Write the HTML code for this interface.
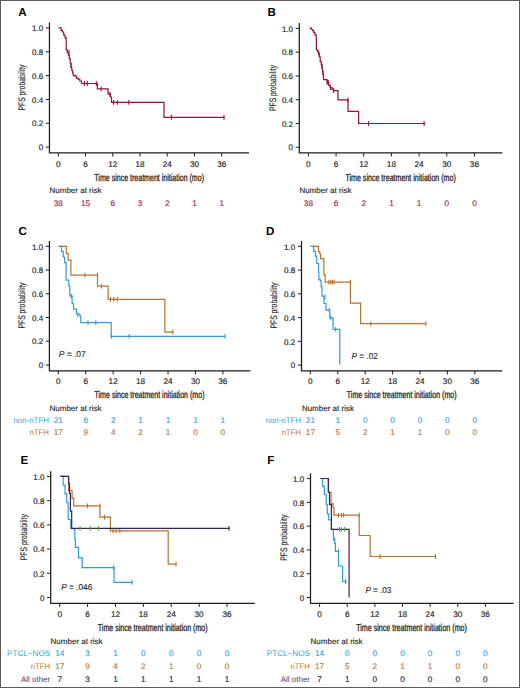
<!DOCTYPE html>
<html><head><meta charset="utf-8"><style>
html,body{margin:0;padding:0;background:#fff;}
svg{display:block;font-family:"Liberation Sans", sans-serif;text-rendering:geometricPrecision;}
</style></head><body>
<svg width="520" height="688" viewBox="0 0 520 688">
<rect x="0" y="0" width="520" height="688" fill="#fff"/>
<text x="18.30" y="15.75" font-size="11.6" fill="#000" font-weight="bold">A</text>
<path d="M49.45,22.60V152.90H249.00" fill="none" stroke="#1c1c1c" stroke-width="1.25"/>
<path d="M45.85,147.10H49.45" stroke="#1c1c1c" stroke-width="1"/>
<text x="43.15" y="150.30" font-size="8" fill="#222" text-anchor="end" stroke="#222" stroke-width="0.15">0</text>
<path d="M45.85,123.26H49.45" stroke="#1c1c1c" stroke-width="1"/>
<text x="43.15" y="126.46" font-size="8" fill="#222" text-anchor="end" stroke="#222" stroke-width="0.15">0.2</text>
<path d="M45.85,99.42H49.45" stroke="#1c1c1c" stroke-width="1"/>
<text x="43.15" y="102.62" font-size="8" fill="#222" text-anchor="end" stroke="#222" stroke-width="0.15">0.4</text>
<path d="M45.85,75.58H49.45" stroke="#1c1c1c" stroke-width="1"/>
<text x="43.15" y="78.78" font-size="8" fill="#222" text-anchor="end" stroke="#222" stroke-width="0.15">0.6</text>
<path d="M45.85,51.74H49.45" stroke="#1c1c1c" stroke-width="1"/>
<text x="43.15" y="54.94" font-size="8" fill="#222" text-anchor="end" stroke="#222" stroke-width="0.15">0.8</text>
<path d="M45.85,27.90H49.45" stroke="#1c1c1c" stroke-width="1"/>
<text x="43.15" y="31.10" font-size="8" fill="#222" text-anchor="end" stroke="#222" stroke-width="0.15">1.0</text>
<path d="M58.30,152.90V156.50" stroke="#1c1c1c" stroke-width="1"/>
<text x="58.30" y="167.15" font-size="8.2" fill="#222" text-anchor="middle" stroke="#222" stroke-width="0.15">0</text>
<path d="M85.53,152.90V156.50" stroke="#1c1c1c" stroke-width="1"/>
<text x="85.53" y="167.15" font-size="8.2" fill="#222" text-anchor="middle" stroke="#222" stroke-width="0.15">6</text>
<path d="M112.76,152.90V156.50" stroke="#1c1c1c" stroke-width="1"/>
<text x="112.76" y="167.15" font-size="8.2" fill="#222" text-anchor="middle" stroke="#222" stroke-width="0.15">12</text>
<path d="M139.99,152.90V156.50" stroke="#1c1c1c" stroke-width="1"/>
<text x="139.99" y="167.15" font-size="8.2" fill="#222" text-anchor="middle" stroke="#222" stroke-width="0.15">18</text>
<path d="M167.22,152.90V156.50" stroke="#1c1c1c" stroke-width="1"/>
<text x="167.22" y="167.15" font-size="8.2" fill="#222" text-anchor="middle" stroke="#222" stroke-width="0.15">24</text>
<path d="M194.45,152.90V156.50" stroke="#1c1c1c" stroke-width="1"/>
<text x="194.45" y="167.15" font-size="8.2" fill="#222" text-anchor="middle" stroke="#222" stroke-width="0.15">30</text>
<path d="M221.68,152.90V156.50" stroke="#1c1c1c" stroke-width="1"/>
<text x="221.68" y="167.15" font-size="8.2" fill="#222" text-anchor="middle" stroke="#222" stroke-width="0.15">36</text>
<text transform="translate(25.00,87.50) rotate(-90)" font-size="9.5" fill="#222" text-anchor="middle" textLength="46" lengthAdjust="spacingAndGlyphs" stroke="#222" stroke-width="0.12">PFS probability</text>
<text x="94.30" y="180.50" font-size="10" fill="#222" textLength="109.7" lengthAdjust="spacingAndGlyphs" stroke="#222" stroke-width="0.3">Time since treatment initiation (mo)</text>
<text x="49.50" y="193.40" font-size="8" fill="#222" stroke="#222" stroke-width="0.12">Number at risk</text>
<text x="58.30" y="205.55" font-size="8.2" fill="#a3284f" text-anchor="middle" stroke="#a3284f" stroke-width="0.15">38</text>
<text x="85.53" y="205.55" font-size="8.2" fill="#a3284f" text-anchor="middle" stroke="#a3284f" stroke-width="0.15">15</text>
<text x="112.76" y="205.55" font-size="8.2" fill="#a3284f" text-anchor="middle" stroke="#a3284f" stroke-width="0.15">6</text>
<text x="139.99" y="205.55" font-size="8.2" fill="#a3284f" text-anchor="middle" stroke="#a3284f" stroke-width="0.15">3</text>
<text x="167.22" y="205.55" font-size="8.2" fill="#a3284f" text-anchor="middle" stroke="#a3284f" stroke-width="0.15">2</text>
<text x="194.45" y="205.55" font-size="8.2" fill="#a3284f" text-anchor="middle" stroke="#a3284f" stroke-width="0.15">1</text>
<text x="221.68" y="205.55" font-size="8.2" fill="#a3284f" text-anchor="middle" stroke="#a3284f" stroke-width="0.15">1</text>
<path d="M58.50,27.90H61.10V30.30H62.40V32.00H63.70V35.10H65.00V37.70H66.20V49.90H67.30V52.50H68.30V55.10H69.30V58.60H70.20V63.00H71.00V67.50H71.80V70.50H72.60V73.00H73.30V75.60H75.00V75.90H76.30V78.10H78.10V79.20H79.80V81.00H81.50V83.50H97.40V88.80H108.10V94.20H110.40V97.00H111.50V102.30H164.00V117.30H224.50" fill="none" stroke="#921338" stroke-width="1.2" stroke-linejoin="miter" stroke-linecap="butt"/>
<path d="M69.00,50.10V54.90" stroke="#921338" stroke-width="1.1"/>
<path d="M71.10,63.20V68.00" stroke="#921338" stroke-width="1.1"/>
<path d="M84.40,81.10V85.90" stroke="#921338" stroke-width="1.1"/>
<path d="M87.30,81.10V85.90" stroke="#921338" stroke-width="1.1"/>
<path d="M96.30,81.10V85.90" stroke="#921338" stroke-width="1.1"/>
<path d="M101.10,86.40V91.20" stroke="#921338" stroke-width="1.1"/>
<path d="M110.00,91.80V96.60" stroke="#921338" stroke-width="1.1"/>
<path d="M113.60,99.90V104.70" stroke="#921338" stroke-width="1.1"/>
<path d="M117.30,99.90V104.70" stroke="#921338" stroke-width="1.1"/>
<path d="M128.80,99.90V104.70" stroke="#921338" stroke-width="1.1"/>
<path d="M171.50,114.90V119.70" stroke="#921338" stroke-width="1.1"/>
<path d="M224.00,114.90V119.70" stroke="#921338" stroke-width="1.1"/>
<text x="267.50" y="15.75" font-size="11.6" fill="#000" font-weight="bold">B</text>
<path d="M299.30,23.10V152.90H502.30" fill="none" stroke="#1c1c1c" stroke-width="1.25"/>
<path d="M295.70,147.25H299.30" stroke="#1c1c1c" stroke-width="1"/>
<text x="293.00" y="150.45" font-size="8" fill="#222" text-anchor="end" stroke="#222" stroke-width="0.15">0</text>
<path d="M295.70,123.48H299.30" stroke="#1c1c1c" stroke-width="1"/>
<text x="293.00" y="126.68" font-size="8" fill="#222" text-anchor="end" stroke="#222" stroke-width="0.15">0.2</text>
<path d="M295.70,99.71H299.30" stroke="#1c1c1c" stroke-width="1"/>
<text x="293.00" y="102.91" font-size="8" fill="#222" text-anchor="end" stroke="#222" stroke-width="0.15">0.4</text>
<path d="M295.70,75.94H299.30" stroke="#1c1c1c" stroke-width="1"/>
<text x="293.00" y="79.14" font-size="8" fill="#222" text-anchor="end" stroke="#222" stroke-width="0.15">0.6</text>
<path d="M295.70,52.17H299.30" stroke="#1c1c1c" stroke-width="1"/>
<text x="293.00" y="55.37" font-size="8" fill="#222" text-anchor="end" stroke="#222" stroke-width="0.15">0.8</text>
<path d="M295.70,28.40H299.30" stroke="#1c1c1c" stroke-width="1"/>
<text x="293.00" y="31.60" font-size="8" fill="#222" text-anchor="end" stroke="#222" stroke-width="0.15">1.0</text>
<path d="M308.40,152.90V156.50" stroke="#1c1c1c" stroke-width="1"/>
<text x="308.40" y="166.85" font-size="8.2" fill="#222" text-anchor="middle" stroke="#222" stroke-width="0.15">0</text>
<path d="M336.07,152.90V156.50" stroke="#1c1c1c" stroke-width="1"/>
<text x="336.07" y="166.85" font-size="8.2" fill="#222" text-anchor="middle" stroke="#222" stroke-width="0.15">6</text>
<path d="M363.74,152.90V156.50" stroke="#1c1c1c" stroke-width="1"/>
<text x="363.74" y="166.85" font-size="8.2" fill="#222" text-anchor="middle" stroke="#222" stroke-width="0.15">12</text>
<path d="M391.41,152.90V156.50" stroke="#1c1c1c" stroke-width="1"/>
<text x="391.41" y="166.85" font-size="8.2" fill="#222" text-anchor="middle" stroke="#222" stroke-width="0.15">18</text>
<path d="M419.08,152.90V156.50" stroke="#1c1c1c" stroke-width="1"/>
<text x="419.08" y="166.85" font-size="8.2" fill="#222" text-anchor="middle" stroke="#222" stroke-width="0.15">24</text>
<path d="M446.75,152.90V156.50" stroke="#1c1c1c" stroke-width="1"/>
<text x="446.75" y="166.85" font-size="8.2" fill="#222" text-anchor="middle" stroke="#222" stroke-width="0.15">30</text>
<path d="M474.42,152.90V156.50" stroke="#1c1c1c" stroke-width="1"/>
<text x="474.42" y="166.85" font-size="8.2" fill="#222" text-anchor="middle" stroke="#222" stroke-width="0.15">36</text>
<text transform="translate(275.80,88.00) rotate(-90)" font-size="9.5" fill="#222" text-anchor="middle" textLength="46" lengthAdjust="spacingAndGlyphs" stroke="#222" stroke-width="0.12">PFS probability</text>
<text x="345.40" y="180.50" font-size="10" fill="#222" textLength="110.40000000000003" lengthAdjust="spacingAndGlyphs" stroke="#222" stroke-width="0.3">Time since treatment initiation (mo)</text>
<text x="299.40" y="193.40" font-size="8" fill="#222" stroke="#222" stroke-width="0.12">Number at risk</text>
<text x="308.40" y="205.55" font-size="8.2" fill="#a3284f" text-anchor="middle" stroke="#a3284f" stroke-width="0.15">38</text>
<text x="336.07" y="205.55" font-size="8.2" fill="#a3284f" text-anchor="middle" stroke="#a3284f" stroke-width="0.15">6</text>
<text x="363.74" y="205.55" font-size="8.2" fill="#a3284f" text-anchor="middle" stroke="#a3284f" stroke-width="0.15">2</text>
<text x="391.41" y="205.55" font-size="8.2" fill="#a3284f" text-anchor="middle" stroke="#a3284f" stroke-width="0.15">1</text>
<text x="419.08" y="205.55" font-size="8.2" fill="#a3284f" text-anchor="middle" stroke="#a3284f" stroke-width="0.15">1</text>
<text x="446.75" y="205.55" font-size="8.2" fill="#a3284f" text-anchor="middle" stroke="#a3284f" stroke-width="0.15">0</text>
<text x="474.42" y="205.55" font-size="8.2" fill="#a3284f" text-anchor="middle" stroke="#a3284f" stroke-width="0.15">0</text>
<path d="M309.10,28.00H311.40V29.50H312.60V30.70H313.70V32.50H314.90V34.80H316.20V37.70H316.40V49.90H317.60V51.70H318.50V53.60H319.30V56.90H320.20V61.50H321.20V64.50H321.90V68.00H322.50V71.00H323.00V74.50H323.50V79.60H327.10V82.50H328.80V85.40H330.20V87.50H332.00V89.40H333.50V90.60H338.00V99.80H348.00V111.40H358.60V123.50H425.20" fill="none" stroke="#921338" stroke-width="1.2" stroke-linejoin="miter" stroke-linecap="butt"/>
<path d="M318.70,50.80V55.60" stroke="#921338" stroke-width="1.1"/>
<path d="M321.90,63.60V68.40" stroke="#921338" stroke-width="1.1"/>
<path d="M323.00,70.80V75.60" stroke="#921338" stroke-width="1.1"/>
<path d="M327.10,80.10V84.90" stroke="#921338" stroke-width="1.1"/>
<path d="M328.30,80.10V84.90" stroke="#921338" stroke-width="1.1"/>
<path d="M330.50,85.10V89.90" stroke="#921338" stroke-width="1.1"/>
<path d="M333.50,88.20V93.00" stroke="#921338" stroke-width="1.1"/>
<path d="M348.00,97.40V102.20" stroke="#921338" stroke-width="1.1"/>
<path d="M368.50,121.10V125.90" stroke="#921338" stroke-width="1.1"/>
<path d="M424.10,121.10V125.90" stroke="#921338" stroke-width="1.1"/>
<text x="18.60" y="234.50" font-size="11.6" fill="#000" font-weight="bold">C</text>
<path d="M49.40,241.00V370.75H250.40" fill="none" stroke="#1c1c1c" stroke-width="1.25"/>
<path d="M45.80,365.00H49.40" stroke="#1c1c1c" stroke-width="1"/>
<text x="43.10" y="368.20" font-size="8" fill="#222" text-anchor="end" stroke="#222" stroke-width="0.15">0</text>
<path d="M45.80,341.26H49.40" stroke="#1c1c1c" stroke-width="1"/>
<text x="43.10" y="344.46" font-size="8" fill="#222" text-anchor="end" stroke="#222" stroke-width="0.15">0.2</text>
<path d="M45.80,317.52H49.40" stroke="#1c1c1c" stroke-width="1"/>
<text x="43.10" y="320.72" font-size="8" fill="#222" text-anchor="end" stroke="#222" stroke-width="0.15">0.4</text>
<path d="M45.80,293.78H49.40" stroke="#1c1c1c" stroke-width="1"/>
<text x="43.10" y="296.98" font-size="8" fill="#222" text-anchor="end" stroke="#222" stroke-width="0.15">0.6</text>
<path d="M45.80,270.04H49.40" stroke="#1c1c1c" stroke-width="1"/>
<text x="43.10" y="273.24" font-size="8" fill="#222" text-anchor="end" stroke="#222" stroke-width="0.15">0.8</text>
<path d="M45.80,246.30H49.40" stroke="#1c1c1c" stroke-width="1"/>
<text x="43.10" y="249.50" font-size="8" fill="#222" text-anchor="end" stroke="#222" stroke-width="0.15">1.0</text>
<path d="M58.30,370.75V374.35" stroke="#1c1c1c" stroke-width="1"/>
<text x="58.30" y="384.25" font-size="8.2" fill="#222" text-anchor="middle" stroke="#222" stroke-width="0.15">0</text>
<path d="M85.73,370.75V374.35" stroke="#1c1c1c" stroke-width="1"/>
<text x="85.73" y="384.25" font-size="8.2" fill="#222" text-anchor="middle" stroke="#222" stroke-width="0.15">6</text>
<path d="M113.16,370.75V374.35" stroke="#1c1c1c" stroke-width="1"/>
<text x="113.16" y="384.25" font-size="8.2" fill="#222" text-anchor="middle" stroke="#222" stroke-width="0.15">12</text>
<path d="M140.59,370.75V374.35" stroke="#1c1c1c" stroke-width="1"/>
<text x="140.59" y="384.25" font-size="8.2" fill="#222" text-anchor="middle" stroke="#222" stroke-width="0.15">18</text>
<path d="M168.02,370.75V374.35" stroke="#1c1c1c" stroke-width="1"/>
<text x="168.02" y="384.25" font-size="8.2" fill="#222" text-anchor="middle" stroke="#222" stroke-width="0.15">24</text>
<path d="M195.45,370.75V374.35" stroke="#1c1c1c" stroke-width="1"/>
<text x="195.45" y="384.25" font-size="8.2" fill="#222" text-anchor="middle" stroke="#222" stroke-width="0.15">30</text>
<path d="M222.88,370.75V374.35" stroke="#1c1c1c" stroke-width="1"/>
<text x="222.88" y="384.25" font-size="8.2" fill="#222" text-anchor="middle" stroke="#222" stroke-width="0.15">36</text>
<text transform="translate(25.00,305.50) rotate(-90)" font-size="9.5" fill="#222" text-anchor="middle" textLength="46" lengthAdjust="spacingAndGlyphs" stroke="#222" stroke-width="0.12">PFS probability</text>
<text x="94.50" y="398.40" font-size="10" fill="#222" textLength="110.0" lengthAdjust="spacingAndGlyphs" stroke="#222" stroke-width="0.3">Time since treatment initiation (mo)</text>
<text x="49.50" y="410.80" font-size="8" fill="#222" stroke="#222" stroke-width="0.12">Number at risk</text>
<text x="48.90" y="423.10" font-size="8" fill="#3aa5da" text-anchor="end" textLength="35.5" lengthAdjust="spacingAndGlyphs">non-nTFH</text>
<text x="58.30" y="423.15" font-size="8.2" fill="#3aa5da" text-anchor="middle" stroke="#3aa5da" stroke-width="0.15">21</text>
<text x="85.73" y="423.15" font-size="8.2" fill="#3aa5da" text-anchor="middle" stroke="#3aa5da" stroke-width="0.15">6</text>
<text x="113.16" y="423.15" font-size="8.2" fill="#3aa5da" text-anchor="middle" stroke="#3aa5da" stroke-width="0.15">2</text>
<text x="140.59" y="423.15" font-size="8.2" fill="#3aa5da" text-anchor="middle" stroke="#3aa5da" stroke-width="0.15">1</text>
<text x="168.02" y="423.15" font-size="8.2" fill="#3aa5da" text-anchor="middle" stroke="#3aa5da" stroke-width="0.15">1</text>
<text x="195.45" y="423.15" font-size="8.2" fill="#3aa5da" text-anchor="middle" stroke="#3aa5da" stroke-width="0.15">1</text>
<text x="222.88" y="423.15" font-size="8.2" fill="#3aa5da" text-anchor="middle" stroke="#3aa5da" stroke-width="0.15">1</text>
<text x="48.90" y="435.30" font-size="8" fill="#c07a35" text-anchor="end" textLength="19.5" lengthAdjust="spacingAndGlyphs">nTFH</text>
<text x="58.30" y="435.35" font-size="8.2" fill="#c07a35" text-anchor="middle" stroke="#c07a35" stroke-width="0.15">17</text>
<text x="85.73" y="435.35" font-size="8.2" fill="#c07a35" text-anchor="middle" stroke="#c07a35" stroke-width="0.15">9</text>
<text x="113.16" y="435.35" font-size="8.2" fill="#c07a35" text-anchor="middle" stroke="#c07a35" stroke-width="0.15">4</text>
<text x="140.59" y="435.35" font-size="8.2" fill="#c07a35" text-anchor="middle" stroke="#c07a35" stroke-width="0.15">2</text>
<text x="168.02" y="435.35" font-size="8.2" fill="#c07a35" text-anchor="middle" stroke="#c07a35" stroke-width="0.15">1</text>
<text x="195.45" y="435.35" font-size="8.2" fill="#c07a35" text-anchor="middle" stroke="#c07a35" stroke-width="0.15">0</text>
<text x="222.88" y="435.35" font-size="8.2" fill="#c07a35" text-anchor="middle" stroke="#c07a35" stroke-width="0.15">0</text>
<text x="58.70" y="357.00" font-size="8.5" fill="#222" stroke="#222" stroke-width="0.12" textLength="27.0" lengthAdjust="spacingAndGlyphs"><tspan font-style="italic">P</tspan> = .07</text>
<path d="M58.50,246.30H61.50V251.30H63.30V257.00H64.60V262.70H66.10V280.10H68.80V286.00H69.80V295.80H72.10V303.50H73.50V309.20H76.50V314.00H79.80V316.00H80.80V322.70H111.20V336.30H225.40" fill="none" stroke="#2f9dd2" stroke-width="1.2" stroke-linejoin="miter" stroke-linecap="butt"/>
<path d="M71.20,293.80V298.60" stroke="#2f9dd2" stroke-width="1.1"/>
<path d="M77.90,312.60V317.40" stroke="#2f9dd2" stroke-width="1.1"/>
<path d="M88.00,320.30V325.10" stroke="#2f9dd2" stroke-width="1.1"/>
<path d="M95.80,320.30V325.10" stroke="#2f9dd2" stroke-width="1.1"/>
<path d="M111.20,333.90V338.70" stroke="#2f9dd2" stroke-width="1.1"/>
<path d="M129.20,333.90V338.70" stroke="#2f9dd2" stroke-width="1.1"/>
<path d="M225.00,333.90V338.70" stroke="#2f9dd2" stroke-width="1.1"/>
<path d="M58.50,246.30H66.30V253.30H68.20V260.20H70.90V275.10H97.50V286.20H108.10V299.40H164.90V332.20H173.50" fill="none" stroke="#b5732f" stroke-width="1.2" stroke-linejoin="miter" stroke-linecap="butt"/>
<path d="M85.00,272.70V277.50" stroke="#b5732f" stroke-width="1.1"/>
<path d="M97.50,272.70V277.50" stroke="#b5732f" stroke-width="1.1"/>
<path d="M101.50,283.80V288.60" stroke="#b5732f" stroke-width="1.1"/>
<path d="M110.60,297.00V301.80" stroke="#b5732f" stroke-width="1.1"/>
<path d="M113.80,297.00V301.80" stroke="#b5732f" stroke-width="1.1"/>
<path d="M117.30,297.00V301.80" stroke="#b5732f" stroke-width="1.1"/>
<path d="M172.80,329.80V334.60" stroke="#b5732f" stroke-width="1.1"/>
<text x="266.00" y="234.50" font-size="11.6" fill="#000" font-weight="bold">D</text>
<path d="M301.50,241.00V370.75H502.30" fill="none" stroke="#1c1c1c" stroke-width="1.25"/>
<path d="M297.90,365.10H301.50" stroke="#1c1c1c" stroke-width="1"/>
<text x="295.20" y="368.30" font-size="8" fill="#222" text-anchor="end" stroke="#222" stroke-width="0.15">0</text>
<path d="M297.90,341.34H301.50" stroke="#1c1c1c" stroke-width="1"/>
<text x="295.20" y="344.54" font-size="8" fill="#222" text-anchor="end" stroke="#222" stroke-width="0.15">0.2</text>
<path d="M297.90,317.58H301.50" stroke="#1c1c1c" stroke-width="1"/>
<text x="295.20" y="320.78" font-size="8" fill="#222" text-anchor="end" stroke="#222" stroke-width="0.15">0.4</text>
<path d="M297.90,293.82H301.50" stroke="#1c1c1c" stroke-width="1"/>
<text x="295.20" y="297.02" font-size="8" fill="#222" text-anchor="end" stroke="#222" stroke-width="0.15">0.6</text>
<path d="M297.90,270.06H301.50" stroke="#1c1c1c" stroke-width="1"/>
<text x="295.20" y="273.26" font-size="8" fill="#222" text-anchor="end" stroke="#222" stroke-width="0.15">0.8</text>
<path d="M297.90,246.30H301.50" stroke="#1c1c1c" stroke-width="1"/>
<text x="295.20" y="249.50" font-size="8" fill="#222" text-anchor="end" stroke="#222" stroke-width="0.15">1.0</text>
<path d="M310.40,370.75V374.35" stroke="#1c1c1c" stroke-width="1"/>
<text x="310.40" y="384.45" font-size="8.2" fill="#222" text-anchor="middle" stroke="#222" stroke-width="0.15">0</text>
<path d="M337.80,370.75V374.35" stroke="#1c1c1c" stroke-width="1"/>
<text x="337.80" y="384.45" font-size="8.2" fill="#222" text-anchor="middle" stroke="#222" stroke-width="0.15">6</text>
<path d="M365.20,370.75V374.35" stroke="#1c1c1c" stroke-width="1"/>
<text x="365.20" y="384.45" font-size="8.2" fill="#222" text-anchor="middle" stroke="#222" stroke-width="0.15">12</text>
<path d="M392.60,370.75V374.35" stroke="#1c1c1c" stroke-width="1"/>
<text x="392.60" y="384.45" font-size="8.2" fill="#222" text-anchor="middle" stroke="#222" stroke-width="0.15">18</text>
<path d="M420.00,370.75V374.35" stroke="#1c1c1c" stroke-width="1"/>
<text x="420.00" y="384.45" font-size="8.2" fill="#222" text-anchor="middle" stroke="#222" stroke-width="0.15">24</text>
<path d="M447.40,370.75V374.35" stroke="#1c1c1c" stroke-width="1"/>
<text x="447.40" y="384.45" font-size="8.2" fill="#222" text-anchor="middle" stroke="#222" stroke-width="0.15">30</text>
<path d="M474.80,370.75V374.35" stroke="#1c1c1c" stroke-width="1"/>
<text x="474.80" y="384.45" font-size="8.2" fill="#222" text-anchor="middle" stroke="#222" stroke-width="0.15">36</text>
<text transform="translate(277.20,305.50) rotate(-90)" font-size="9.5" fill="#222" text-anchor="middle" textLength="46" lengthAdjust="spacingAndGlyphs" stroke="#222" stroke-width="0.12">PFS probability</text>
<text x="346.80" y="398.10" font-size="10" fill="#222" textLength="109.80000000000001" lengthAdjust="spacingAndGlyphs" stroke="#222" stroke-width="0.3">Time since treatment initiation (mo)</text>
<text x="301.90" y="410.80" font-size="8" fill="#222" stroke="#222" stroke-width="0.12">Number at risk</text>
<text x="301.00" y="423.10" font-size="8" fill="#3aa5da" text-anchor="end" textLength="35.5" lengthAdjust="spacingAndGlyphs">non-nTFH</text>
<text x="310.40" y="423.15" font-size="8.2" fill="#3aa5da" text-anchor="middle" stroke="#3aa5da" stroke-width="0.15">21</text>
<text x="337.80" y="423.15" font-size="8.2" fill="#3aa5da" text-anchor="middle" stroke="#3aa5da" stroke-width="0.15">1</text>
<text x="365.20" y="423.15" font-size="8.2" fill="#3aa5da" text-anchor="middle" stroke="#3aa5da" stroke-width="0.15">0</text>
<text x="392.60" y="423.15" font-size="8.2" fill="#3aa5da" text-anchor="middle" stroke="#3aa5da" stroke-width="0.15">0</text>
<text x="420.00" y="423.15" font-size="8.2" fill="#3aa5da" text-anchor="middle" stroke="#3aa5da" stroke-width="0.15">0</text>
<text x="447.40" y="423.15" font-size="8.2" fill="#3aa5da" text-anchor="middle" stroke="#3aa5da" stroke-width="0.15">0</text>
<text x="474.80" y="423.15" font-size="8.2" fill="#3aa5da" text-anchor="middle" stroke="#3aa5da" stroke-width="0.15">0</text>
<text x="301.00" y="435.30" font-size="8" fill="#c07a35" text-anchor="end" textLength="19.5" lengthAdjust="spacingAndGlyphs">nTFH</text>
<text x="310.40" y="435.35" font-size="8.2" fill="#c07a35" text-anchor="middle" stroke="#c07a35" stroke-width="0.15">17</text>
<text x="337.80" y="435.35" font-size="8.2" fill="#c07a35" text-anchor="middle" stroke="#c07a35" stroke-width="0.15">5</text>
<text x="365.20" y="435.35" font-size="8.2" fill="#c07a35" text-anchor="middle" stroke="#c07a35" stroke-width="0.15">2</text>
<text x="392.60" y="435.35" font-size="8.2" fill="#c07a35" text-anchor="middle" stroke="#c07a35" stroke-width="0.15">1</text>
<text x="420.00" y="435.35" font-size="8.2" fill="#c07a35" text-anchor="middle" stroke="#c07a35" stroke-width="0.15">1</text>
<text x="447.40" y="435.35" font-size="8.2" fill="#c07a35" text-anchor="middle" stroke="#c07a35" stroke-width="0.15">0</text>
<text x="474.80" y="435.35" font-size="8.2" fill="#c07a35" text-anchor="middle" stroke="#c07a35" stroke-width="0.15">0</text>
<text x="351.60" y="359.00" font-size="8.5" fill="#222" stroke="#222" stroke-width="0.12" textLength="26.2" lengthAdjust="spacingAndGlyphs"><tspan font-style="italic">P</tspan> = .02</text>
<path d="M310.80,246.30H313.70V251.30H315.40V256.10H316.70V263.50H318.50V271.80H318.90V279.60H320.20V280.50H321.10V286.60H322.00V296.20H324.00V303.50H326.00V310.20H329.80V317.90H333.10V329.40H339.80V364.60" fill="none" stroke="#2f9dd2" stroke-width="1.2" stroke-linejoin="miter" stroke-linecap="butt"/>
<path d="M325.00,294.60V299.40" stroke="#2f9dd2" stroke-width="1.1"/>
<path d="M329.20,307.80V312.60" stroke="#2f9dd2" stroke-width="1.1"/>
<path d="M330.80,315.50V320.30" stroke="#2f9dd2" stroke-width="1.1"/>
<path d="M335.60,327.00V331.80" stroke="#2f9dd2" stroke-width="1.1"/>
<path d="M310.80,246.30H318.50V251.70H319.80V254.00H320.60V258.70H323.70V260.00H323.90V274.80H325.20V282.20H350.40V303.10H360.60V323.70H426.20" fill="none" stroke="#b5732f" stroke-width="1.2" stroke-linejoin="miter" stroke-linecap="butt"/>
<path d="M328.90,279.80V284.60" stroke="#b5732f" stroke-width="1.1"/>
<path d="M330.80,279.80V284.60" stroke="#b5732f" stroke-width="1.1"/>
<path d="M332.40,279.80V284.60" stroke="#b5732f" stroke-width="1.1"/>
<path d="M334.20,279.80V284.60" stroke="#b5732f" stroke-width="1.1"/>
<path d="M350.40,279.80V284.60" stroke="#b5732f" stroke-width="1.1"/>
<path d="M370.80,321.30V326.10" stroke="#b5732f" stroke-width="1.1"/>
<path d="M425.80,321.30V326.10" stroke="#b5732f" stroke-width="1.1"/>
<text x="20.60" y="463.90" font-size="11.6" fill="#000" font-weight="bold">E</text>
<path d="M50.70,471.20V603.35H254.80" fill="none" stroke="#1c1c1c" stroke-width="1.25"/>
<path d="M47.10,597.50H50.70" stroke="#1c1c1c" stroke-width="1"/>
<text x="44.40" y="600.70" font-size="8" fill="#222" text-anchor="end" stroke="#222" stroke-width="0.15">0</text>
<path d="M47.10,573.30H50.70" stroke="#1c1c1c" stroke-width="1"/>
<text x="44.40" y="576.50" font-size="8" fill="#222" text-anchor="end" stroke="#222" stroke-width="0.15">0.2</text>
<path d="M47.10,549.10H50.70" stroke="#1c1c1c" stroke-width="1"/>
<text x="44.40" y="552.30" font-size="8" fill="#222" text-anchor="end" stroke="#222" stroke-width="0.15">0.4</text>
<path d="M47.10,524.90H50.70" stroke="#1c1c1c" stroke-width="1"/>
<text x="44.40" y="528.10" font-size="8" fill="#222" text-anchor="end" stroke="#222" stroke-width="0.15">0.6</text>
<path d="M47.10,500.70H50.70" stroke="#1c1c1c" stroke-width="1"/>
<text x="44.40" y="503.90" font-size="8" fill="#222" text-anchor="end" stroke="#222" stroke-width="0.15">0.8</text>
<path d="M47.10,476.50H50.70" stroke="#1c1c1c" stroke-width="1"/>
<text x="44.40" y="479.70" font-size="8" fill="#222" text-anchor="end" stroke="#222" stroke-width="0.15">1.0</text>
<path d="M59.70,603.35V606.95" stroke="#1c1c1c" stroke-width="1"/>
<text x="59.70" y="616.75" font-size="8.2" fill="#222" text-anchor="middle" stroke="#222" stroke-width="0.15">0</text>
<path d="M87.58,603.35V606.95" stroke="#1c1c1c" stroke-width="1"/>
<text x="87.58" y="616.75" font-size="8.2" fill="#222" text-anchor="middle" stroke="#222" stroke-width="0.15">6</text>
<path d="M115.46,603.35V606.95" stroke="#1c1c1c" stroke-width="1"/>
<text x="115.46" y="616.75" font-size="8.2" fill="#222" text-anchor="middle" stroke="#222" stroke-width="0.15">12</text>
<path d="M143.34,603.35V606.95" stroke="#1c1c1c" stroke-width="1"/>
<text x="143.34" y="616.75" font-size="8.2" fill="#222" text-anchor="middle" stroke="#222" stroke-width="0.15">18</text>
<path d="M171.22,603.35V606.95" stroke="#1c1c1c" stroke-width="1"/>
<text x="171.22" y="616.75" font-size="8.2" fill="#222" text-anchor="middle" stroke="#222" stroke-width="0.15">24</text>
<path d="M199.10,603.35V606.95" stroke="#1c1c1c" stroke-width="1"/>
<text x="199.10" y="616.75" font-size="8.2" fill="#222" text-anchor="middle" stroke="#222" stroke-width="0.15">30</text>
<path d="M226.98,603.35V606.95" stroke="#1c1c1c" stroke-width="1"/>
<text x="226.98" y="616.75" font-size="8.2" fill="#222" text-anchor="middle" stroke="#222" stroke-width="0.15">36</text>
<text transform="translate(27.20,537.20) rotate(-90)" font-size="9.5" fill="#222" text-anchor="middle" textLength="46" lengthAdjust="spacingAndGlyphs" stroke="#222" stroke-width="0.12">PFS probability</text>
<text x="97.80" y="630.50" font-size="10" fill="#222" textLength="109.8" lengthAdjust="spacingAndGlyphs" stroke="#222" stroke-width="0.3">Time since treatment initiation (mo)</text>
<text x="50.60" y="644.10" font-size="8" fill="#222" stroke="#222" stroke-width="0.12">Number at risk</text>
<text x="50.20" y="656.10" font-size="8" fill="#3aa5da" text-anchor="end" textLength="43.2" lengthAdjust="spacingAndGlyphs">PTCL−NOS</text>
<text x="59.70" y="656.15" font-size="8.2" fill="#3aa5da" text-anchor="middle" stroke="#3aa5da" stroke-width="0.15">14</text>
<text x="87.58" y="656.15" font-size="8.2" fill="#3aa5da" text-anchor="middle" stroke="#3aa5da" stroke-width="0.15">3</text>
<text x="115.46" y="656.15" font-size="8.2" fill="#3aa5da" text-anchor="middle" stroke="#3aa5da" stroke-width="0.15">1</text>
<text x="143.34" y="656.15" font-size="8.2" fill="#3aa5da" text-anchor="middle" stroke="#3aa5da" stroke-width="0.15">0</text>
<text x="171.22" y="656.15" font-size="8.2" fill="#3aa5da" text-anchor="middle" stroke="#3aa5da" stroke-width="0.15">0</text>
<text x="199.10" y="656.15" font-size="8.2" fill="#3aa5da" text-anchor="middle" stroke="#3aa5da" stroke-width="0.15">0</text>
<text x="226.98" y="656.15" font-size="8.2" fill="#3aa5da" text-anchor="middle" stroke="#3aa5da" stroke-width="0.15">0</text>
<text x="50.20" y="668.80" font-size="8" fill="#c07a35" text-anchor="end" textLength="19.5" lengthAdjust="spacingAndGlyphs">nTFH</text>
<text x="59.70" y="668.85" font-size="8.2" fill="#c07a35" text-anchor="middle" stroke="#c07a35" stroke-width="0.15">17</text>
<text x="87.58" y="668.85" font-size="8.2" fill="#c07a35" text-anchor="middle" stroke="#c07a35" stroke-width="0.15">9</text>
<text x="115.46" y="668.85" font-size="8.2" fill="#c07a35" text-anchor="middle" stroke="#c07a35" stroke-width="0.15">4</text>
<text x="143.34" y="668.85" font-size="8.2" fill="#c07a35" text-anchor="middle" stroke="#c07a35" stroke-width="0.15">2</text>
<text x="171.22" y="668.85" font-size="8.2" fill="#c07a35" text-anchor="middle" stroke="#c07a35" stroke-width="0.15">1</text>
<text x="199.10" y="668.85" font-size="8.2" fill="#c07a35" text-anchor="middle" stroke="#c07a35" stroke-width="0.15">0</text>
<text x="226.98" y="668.85" font-size="8.2" fill="#c07a35" text-anchor="middle" stroke="#c07a35" stroke-width="0.15">0</text>
<text x="50.20" y="681.60" font-size="8" fill="#5a3a73" text-anchor="end" textLength="29.3" lengthAdjust="spacingAndGlyphs">All other</text>
<text x="59.70" y="681.65" font-size="8.2" fill="#2e1d40" text-anchor="middle" stroke="#2e1d40" stroke-width="0.15">7</text>
<text x="87.58" y="681.65" font-size="8.2" fill="#2e1d40" text-anchor="middle" stroke="#2e1d40" stroke-width="0.15">3</text>
<text x="115.46" y="681.65" font-size="8.2" fill="#2e1d40" text-anchor="middle" stroke="#2e1d40" stroke-width="0.15">1</text>
<text x="143.34" y="681.65" font-size="8.2" fill="#2e1d40" text-anchor="middle" stroke="#2e1d40" stroke-width="0.15">1</text>
<text x="171.22" y="681.65" font-size="8.2" fill="#2e1d40" text-anchor="middle" stroke="#2e1d40" stroke-width="0.15">1</text>
<text x="199.10" y="681.65" font-size="8.2" fill="#2e1d40" text-anchor="middle" stroke="#2e1d40" stroke-width="0.15">1</text>
<text x="226.98" y="681.65" font-size="8.2" fill="#2e1d40" text-anchor="middle" stroke="#2e1d40" stroke-width="0.15">1</text>
<text x="61.20" y="589.60" font-size="8.5" fill="#222" stroke="#222" stroke-width="0.12" textLength="31.1" lengthAdjust="spacingAndGlyphs"><tspan font-style="italic">P</tspan> = .046</text>
<path d="M60.40,476.40H63.20V485.10H65.00V493.80H66.70V502.50H68.20V519.50H70.80V528.50H74.00V530.00H74.80V539.20H75.40V547.30H78.50V557.90H82.20V567.70H114.10V582.30H132.40" fill="none" stroke="#2f9dd2" stroke-width="1.2" stroke-linejoin="miter" stroke-linecap="butt"/>
<path d="M113.50,565.30V570.10" stroke="#2f9dd2" stroke-width="1.1"/>
<path d="M132.00,579.90V584.70" stroke="#2f9dd2" stroke-width="1.1"/>
<path d="M60.40,476.40H68.60V490.70H72.10V498.20H73.70V505.80H99.90V517.20H110.40V530.80H168.20V564.20H176.50" fill="none" stroke="#b5732f" stroke-width="1.2" stroke-linejoin="miter" stroke-linecap="butt"/>
<path d="M87.40,503.40V508.20" stroke="#b5732f" stroke-width="1.1"/>
<path d="M99.90,503.40V508.20" stroke="#b5732f" stroke-width="1.1"/>
<path d="M104.50,514.80V519.60" stroke="#b5732f" stroke-width="1.1"/>
<path d="M113.10,528.40V533.20" stroke="#b5732f" stroke-width="1.1"/>
<path d="M116.10,528.40V533.20" stroke="#b5732f" stroke-width="1.1"/>
<path d="M119.80,528.40V533.20" stroke="#b5732f" stroke-width="1.1"/>
<path d="M176.00,561.80V566.60" stroke="#b5732f" stroke-width="1.1"/>
<path d="M60.40,476.40H68.60V483.30H69.50V493.40H70.40V511.20H71.70V528.40H229.50" fill="none" stroke="#3b2357" stroke-width="1.2" stroke-linejoin="miter" stroke-linecap="butt"/>
<path d="M229.00,526.00V530.80" stroke="#3b2357" stroke-width="1.1"/>
<path d="M80.10,528.40" fill="none" stroke="none" stroke-width="1.2" stroke-linejoin="miter" stroke-linecap="butt"/>
<path d="M80.10,526.00V530.80" stroke="#5aa84a" stroke-width="1.1"/>
<path d="M90.30,526.00V530.80" stroke="#5aa84a" stroke-width="1.1"/>
<path d="M98.40,526.00V530.80" stroke="#5aa84a" stroke-width="1.1"/>
<text x="267.20" y="463.90" font-size="11.6" fill="#000" font-weight="bold">F</text>
<path d="M310.50,473.20V603.35H513.50" fill="none" stroke="#1c1c1c" stroke-width="1.25"/>
<path d="M306.90,597.50H310.50" stroke="#1c1c1c" stroke-width="1"/>
<text x="304.20" y="600.70" font-size="8" fill="#222" text-anchor="end" stroke="#222" stroke-width="0.15">0</text>
<path d="M306.90,573.72H310.50" stroke="#1c1c1c" stroke-width="1"/>
<text x="304.20" y="576.92" font-size="8" fill="#222" text-anchor="end" stroke="#222" stroke-width="0.15">0.2</text>
<path d="M306.90,549.94H310.50" stroke="#1c1c1c" stroke-width="1"/>
<text x="304.20" y="553.14" font-size="8" fill="#222" text-anchor="end" stroke="#222" stroke-width="0.15">0.4</text>
<path d="M306.90,526.16H310.50" stroke="#1c1c1c" stroke-width="1"/>
<text x="304.20" y="529.36" font-size="8" fill="#222" text-anchor="end" stroke="#222" stroke-width="0.15">0.6</text>
<path d="M306.90,502.38H310.50" stroke="#1c1c1c" stroke-width="1"/>
<text x="304.20" y="505.58" font-size="8" fill="#222" text-anchor="end" stroke="#222" stroke-width="0.15">0.8</text>
<path d="M306.90,478.60H310.50" stroke="#1c1c1c" stroke-width="1"/>
<text x="304.20" y="481.80" font-size="8" fill="#222" text-anchor="end" stroke="#222" stroke-width="0.15">1.0</text>
<path d="M319.60,603.35V606.95" stroke="#1c1c1c" stroke-width="1"/>
<text x="319.60" y="616.55" font-size="8.2" fill="#222" text-anchor="middle" stroke="#222" stroke-width="0.15">0</text>
<path d="M347.23,603.35V606.95" stroke="#1c1c1c" stroke-width="1"/>
<text x="347.23" y="616.55" font-size="8.2" fill="#222" text-anchor="middle" stroke="#222" stroke-width="0.15">6</text>
<path d="M374.86,603.35V606.95" stroke="#1c1c1c" stroke-width="1"/>
<text x="374.86" y="616.55" font-size="8.2" fill="#222" text-anchor="middle" stroke="#222" stroke-width="0.15">12</text>
<path d="M402.49,603.35V606.95" stroke="#1c1c1c" stroke-width="1"/>
<text x="402.49" y="616.55" font-size="8.2" fill="#222" text-anchor="middle" stroke="#222" stroke-width="0.15">18</text>
<path d="M430.12,603.35V606.95" stroke="#1c1c1c" stroke-width="1"/>
<text x="430.12" y="616.55" font-size="8.2" fill="#222" text-anchor="middle" stroke="#222" stroke-width="0.15">24</text>
<path d="M457.75,603.35V606.95" stroke="#1c1c1c" stroke-width="1"/>
<text x="457.75" y="616.55" font-size="8.2" fill="#222" text-anchor="middle" stroke="#222" stroke-width="0.15">30</text>
<path d="M485.38,603.35V606.95" stroke="#1c1c1c" stroke-width="1"/>
<text x="485.38" y="616.55" font-size="8.2" fill="#222" text-anchor="middle" stroke="#222" stroke-width="0.15">36</text>
<text transform="translate(287.00,537.70) rotate(-90)" font-size="9.5" fill="#222" text-anchor="middle" textLength="46" lengthAdjust="spacingAndGlyphs" stroke="#222" stroke-width="0.12">PFS probability</text>
<text x="356.20" y="630.50" font-size="10" fill="#222" textLength="110.69999999999999" lengthAdjust="spacingAndGlyphs" stroke="#222" stroke-width="0.3">Time since treatment initiation (mo)</text>
<text x="310.60" y="643.70" font-size="8" fill="#222" stroke="#222" stroke-width="0.12">Number at risk</text>
<text x="310.00" y="656.20" font-size="8" fill="#3aa5da" text-anchor="end" textLength="43.2" lengthAdjust="spacingAndGlyphs">PTCL−NOS</text>
<text x="319.60" y="656.25" font-size="8.2" fill="#3aa5da" text-anchor="middle" stroke="#3aa5da" stroke-width="0.15">14</text>
<text x="347.23" y="656.25" font-size="8.2" fill="#3aa5da" text-anchor="middle" stroke="#3aa5da" stroke-width="0.15">0</text>
<text x="374.86" y="656.25" font-size="8.2" fill="#3aa5da" text-anchor="middle" stroke="#3aa5da" stroke-width="0.15">0</text>
<text x="402.49" y="656.25" font-size="8.2" fill="#3aa5da" text-anchor="middle" stroke="#3aa5da" stroke-width="0.15">0</text>
<text x="430.12" y="656.25" font-size="8.2" fill="#3aa5da" text-anchor="middle" stroke="#3aa5da" stroke-width="0.15">0</text>
<text x="457.75" y="656.25" font-size="8.2" fill="#3aa5da" text-anchor="middle" stroke="#3aa5da" stroke-width="0.15">0</text>
<text x="485.38" y="656.25" font-size="8.2" fill="#3aa5da" text-anchor="middle" stroke="#3aa5da" stroke-width="0.15">0</text>
<text x="310.00" y="668.90" font-size="8" fill="#c07a35" text-anchor="end" textLength="19.5" lengthAdjust="spacingAndGlyphs">nTFH</text>
<text x="319.60" y="668.95" font-size="8.2" fill="#c07a35" text-anchor="middle" stroke="#c07a35" stroke-width="0.15">17</text>
<text x="347.23" y="668.95" font-size="8.2" fill="#c07a35" text-anchor="middle" stroke="#c07a35" stroke-width="0.15">5</text>
<text x="374.86" y="668.95" font-size="8.2" fill="#c07a35" text-anchor="middle" stroke="#c07a35" stroke-width="0.15">2</text>
<text x="402.49" y="668.95" font-size="8.2" fill="#c07a35" text-anchor="middle" stroke="#c07a35" stroke-width="0.15">1</text>
<text x="430.12" y="668.95" font-size="8.2" fill="#c07a35" text-anchor="middle" stroke="#c07a35" stroke-width="0.15">1</text>
<text x="457.75" y="668.95" font-size="8.2" fill="#c07a35" text-anchor="middle" stroke="#c07a35" stroke-width="0.15">0</text>
<text x="485.38" y="668.95" font-size="8.2" fill="#c07a35" text-anchor="middle" stroke="#c07a35" stroke-width="0.15">0</text>
<text x="310.00" y="681.90" font-size="8" fill="#5a3a73" text-anchor="end" textLength="29.3" lengthAdjust="spacingAndGlyphs">All other</text>
<text x="319.60" y="681.95" font-size="8.2" fill="#2e1d40" text-anchor="middle" stroke="#2e1d40" stroke-width="0.15">7</text>
<text x="347.23" y="681.95" font-size="8.2" fill="#2e1d40" text-anchor="middle" stroke="#2e1d40" stroke-width="0.15">1</text>
<text x="374.86" y="681.95" font-size="8.2" fill="#2e1d40" text-anchor="middle" stroke="#2e1d40" stroke-width="0.15">0</text>
<text x="402.49" y="681.95" font-size="8.2" fill="#2e1d40" text-anchor="middle" stroke="#2e1d40" stroke-width="0.15">0</text>
<text x="430.12" y="681.95" font-size="8.2" fill="#2e1d40" text-anchor="middle" stroke="#2e1d40" stroke-width="0.15">0</text>
<text x="457.75" y="681.95" font-size="8.2" fill="#2e1d40" text-anchor="middle" stroke="#2e1d40" stroke-width="0.15">0</text>
<text x="485.38" y="681.95" font-size="8.2" fill="#2e1d40" text-anchor="middle" stroke="#2e1d40" stroke-width="0.15">0</text>
<text x="365.40" y="593.00" font-size="8.5" fill="#222" stroke="#222" stroke-width="0.12" textLength="26.0" lengthAdjust="spacingAndGlyphs"><tspan font-style="italic">P</tspan> = .03</text>
<path d="M320.60,478.50H322.60V486.30H324.40V494.40H326.30V504.60H327.30V513.80H328.70V519.90H331.40V529.40H333.40V539.20H334.80V543.30H335.40V551.40H338.50V566.00H342.60V581.50H346.60" fill="none" stroke="#2f9dd2" stroke-width="1.2" stroke-linejoin="miter" stroke-linecap="butt"/>
<path d="M334.00,536.80V541.60" stroke="#2f9dd2" stroke-width="1.1"/>
<path d="M338.50,549.00V553.80" stroke="#2f9dd2" stroke-width="1.1"/>
<path d="M345.60,579.10V583.90" stroke="#2f9dd2" stroke-width="1.1"/>
<path d="M320.60,478.50H328.50V492.40H331.00V503.60H333.00V507.60H334.00V515.20H359.20V535.50H370.20V556.50H435.80" fill="none" stroke="#b5732f" stroke-width="1.2" stroke-linejoin="miter" stroke-linecap="butt"/>
<path d="M338.50,512.80V517.60" stroke="#b5732f" stroke-width="1.1"/>
<path d="M341.50,512.80V517.60" stroke="#b5732f" stroke-width="1.1"/>
<path d="M343.60,512.80V517.60" stroke="#b5732f" stroke-width="1.1"/>
<path d="M359.20,512.80V517.60" stroke="#b5732f" stroke-width="1.1"/>
<path d="M380.20,554.10V558.90" stroke="#b5732f" stroke-width="1.1"/>
<path d="M435.50,554.10V558.90" stroke="#b5732f" stroke-width="1.1"/>
<path d="M320.60,478.50H328.30V492.40H329.50V504.60H331.40V529.40H349.10V597.20" fill="none" stroke="#3b2357" stroke-width="1.2" stroke-linejoin="miter" stroke-linecap="butt"/>
<path d="M339.50,529.40" fill="none" stroke="none" stroke-width="1.2" stroke-linejoin="miter" stroke-linecap="butt"/>
<path d="M339.50,527.00V531.80" stroke="#5aa84a" stroke-width="1.1"/>
<path d="M341.50,527.00V531.80" stroke="#5aa84a" stroke-width="1.1"/>
<path d="M344.60,527.00V531.80" stroke="#5aa84a" stroke-width="1.1"/>
<rect x="0.5" y="0.5" width="519" height="687" fill="none" stroke="#5a5a5a" stroke-width="1"/>
</svg>
</body></html>
